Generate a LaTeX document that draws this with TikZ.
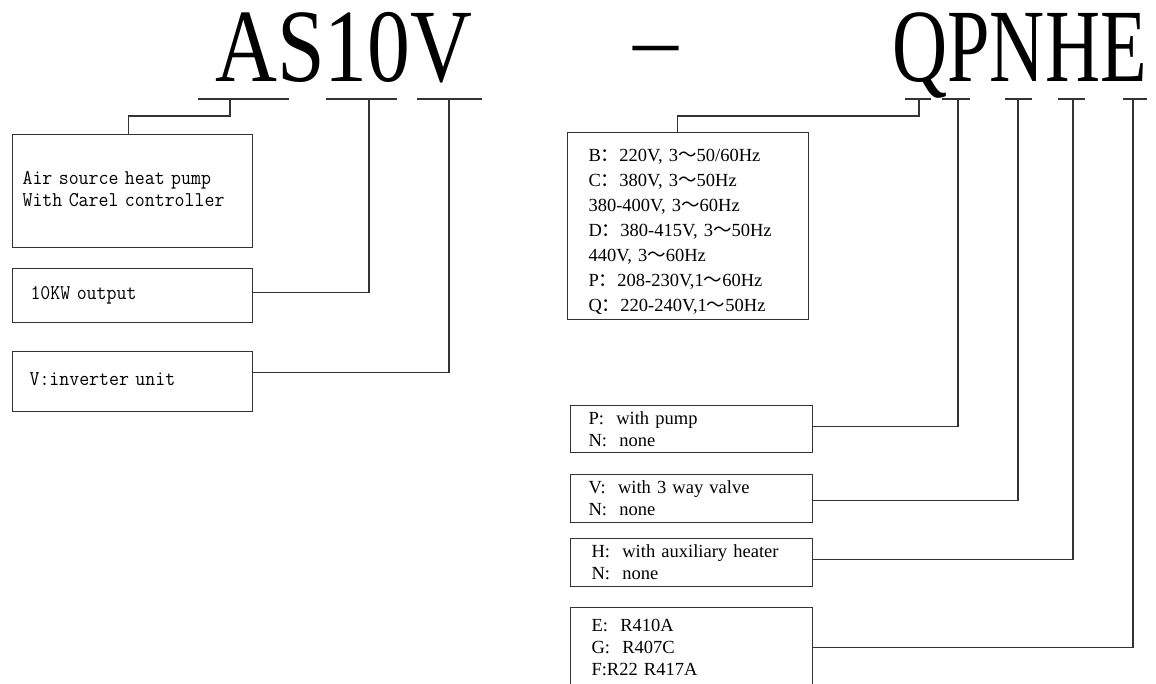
\documentclass[tikz,border=0pt]{standalone}
\usepackage{fontspec}
\setmainfont{Liberation Serif}
\newfontfamily\cjk{Noto Sans CJK SC}
\newfontfamily\titlefont{Liberation Serif}
\usepackage{tikz}
\usetikzlibrary{positioning}
\usepackage{xcolor}
\definecolor{ink}{HTML}{333333}
\newcommand{\fcolon}{{\cjk ：}}
\newcommand{\fwave}{{\cjk ～}}
\newcommand{\codelines}[1]{\scalebox{0.92}[1]{\begin{tabular}{@{}l@{}}#1\end{tabular}}}

\begin{document}
\begin{tikzpicture}[x=1pt,y=-1pt,
    wire/.style={draw=ink, line width=1.2pt},
    codebox/.style={draw=ink, line width=1.1pt, anchor=north west, align=left,
      inner ysep=0pt, font=\ttfamily\fontsize{21}{22}\selectfont},
    specbox/.style={draw=ink, line width=1.1pt, anchor=north west, align=left,
      inner ysep=0pt, font=\fontsize{18.5}{22}\selectfont}]
  \useasboundingbox (0,0) rectangle (1156,684);

  % model code
  \node[anchor=base west, inner sep=0, text height=70pt, text depth=8pt,
      font=\titlefont\fontsize{104}{114}\selectfont]
    (modelA) at (215,82) {\scalebox{0.824}[1]{AS10V}};
  \node[anchor=base west, inner sep=0, font=\titlefont\fontsize{90}{100}\selectfont]
    (sep) at (633,70) {–};
  \node[anchor=base east, inner sep=0, text height=70pt, text depth=8pt,
      font=\titlefont\fontsize{104}{114}\selectfont]
    (modelB) at (1147,82) {\scalebox{0.734}[1]{QPNHE}};

  % ticks under the letters
  \foreach \a/\b/\c/\n in {198/289/230/tAS, 326/397/369/tKW, 417/482/449/tV,
      905/931/919/tQ, 942/970/958/tP, 1005/1032/1018/tN, 1058/1085/1073/tH, 1123/1147/1133/tE}{
    \draw[wire] (\a,99) -- (\b,99);
    \coordinate (\n) at (\c,99);
  }

  % left column
  \node[codebox, minimum width=240pt, minimum height=113pt, inner xsep=10pt, text width=220pt]
    (series) at (12,134) {\codelines{Air source heat pump\\With Carel controller}};
  \node[codebox, minimum width=240pt, minimum height=54pt, inner xsep=18pt, text width=204pt]
    (rating) at (12,268) {\codelines{10KW output}};
  \node[codebox, minimum width=240pt, minimum height=60pt, inner xsep=17pt, text width=206pt]
    (inverter) at (12,351) {\codelines{V:inverter unit}};

  % right column
  \node[specbox, font=\fontsize{18.5}{25}\selectfont, minimum width=241pt, minimum height=187pt,
      inner xsep=21pt, text width=199pt] (power) at (567,132)
    {\rule{0pt}{24pt}B\fcolon220V, 3\fwave50/60Hz\\
     C\fcolon380V, 3\fwave50Hz\\
     380-400V, 3\fwave60Hz\\
     D\fcolon380-415V, 3\fwave50Hz\\
     440V, 3\fwave60Hz\\
     P\fcolon208-230V,1\fwave60Hz\\
     Q\fcolon220-240V,1\fwave50Hz};
  \node[specbox, minimum width=242pt, minimum height=47pt, inner xsep=18pt, text width=206pt]
    (pump) at (570,405) {P:\ \ with pump\\N:\ \ none};
  \node[specbox, minimum width=242pt, minimum height=48pt, inner xsep=18pt, text width=206pt]
    (valve) at (570,474) {V:\ \ with 3 way valve\\N:\ \ none};
  \node[specbox, minimum width=242pt, minimum height=48pt, inner xsep=21pt, text width=200pt]
    (heater) at (570,538) {H:\ \ with auxiliary heater\\N:\ \ none};
  \node[specbox, minimum width=242pt, minimum height=80pt, inner xsep=21pt, text width=200pt]
    (refrig) at (570,607) {E:\ \ R410A\\G:\ \ R407C\\F:R22 R417A};

  % connectors
  \draw[wire] (tAS) -- ++(0,17) -| ([xshift=-4pt]series.north);
  \draw[wire] (tKW) |- ([yshift=3pt]rating.east);
  \draw[wire] (tV) |- ([yshift=9pt]inverter.east);
  \draw[wire] (tQ) -- ++(0,17) -| ([xshift=-10.5pt]power.north);
  \draw[wire] (tP) |- ([yshift=2.5pt]pump.east);
  \draw[wire] (tN) |- ([yshift=-2pt]valve.east);
  \draw[wire] (tH) |- ([yshift=3pt]heater.east);
  \draw[wire] (tE) |- (refrig.east);
\end{tikzpicture}
\end{document}
